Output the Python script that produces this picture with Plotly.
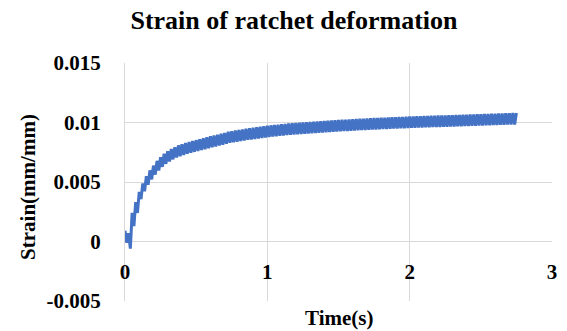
import plotly.graph_objects as go

# Ratchet strain history: one peak and one valley per loading cycle
PERIOD = 0.025  # s, loading cycle length

peak_strain = [
    0.0009, 0.0007, 0.0024, 0.0033, 0.00418, 0.00488, 0.00548, 0.00598, 0.00638, 0.00678,
    0.00708, 0.00738, 0.00758, 0.00778, 0.00793, 0.00808, 0.00818, 0.00828, 0.00837, 0.00845,
    0.00852, 0.0086, 0.00868, 0.00876, 0.00884, 0.00891, 0.00898, 0.00905, 0.00912, 0.00922,
    0.00927, 0.00932, 0.00937, 0.00942, 0.00947, 0.00952, 0.00956, 0.0096, 0.00964, 0.00968,
    0.00972, 0.00976, 0.00979, 0.00982, 0.00985, 0.00988, 0.00991, 0.00993, 0.00996, 0.00998,
    0.01001, 0.01003, 0.01005, 0.01007, 0.01009, 0.01011, 0.01013, 0.01015, 0.01017, 0.01019,
    0.01021, 0.01023, 0.01024, 0.01026, 0.01028, 0.01029, 0.01031, 0.01032, 0.01034, 0.01035,
    0.01037, 0.01038, 0.0104, 0.01041, 0.01042, 0.01044, 0.01045, 0.01046, 0.01047, 0.01049,
    0.0105, 0.01051, 0.01052, 0.01053, 0.01054, 0.01055, 0.01056, 0.01057, 0.01058, 0.01059,
    0.0106, 0.01061, 0.01062, 0.01063, 0.01064, 0.01065, 0.01066, 0.01067, 0.01068, 0.01069,
    0.0107, 0.01071, 0.01072, 0.01073, 0.01074, 0.01075, 0.01076, 0.01077, 0.01078, 0.01079,
    0.0108,
]

valley_strain = [
    -0.0001, -0.0006, 0.0013, 0.0024, 0.00357, 0.00422, 0.00477, 0.00522, 0.00562, 0.00597,
    0.00627, 0.00652, 0.00672, 0.0069, 0.00705, 0.00717, 0.00727, 0.00737, 0.00745, 0.00753,
    0.0076, 0.00768, 0.00776, 0.00784, 0.00792, 0.00799, 0.00806, 0.00813, 0.00821, 0.00829,
    0.00834, 0.00839, 0.00844, 0.00849, 0.00854, 0.00858, 0.00862, 0.00866, 0.0087, 0.00874,
    0.00878, 0.00882, 0.00885, 0.00888, 0.00891, 0.00894, 0.00896, 0.00899, 0.00901, 0.00904,
    0.00906, 0.00908, 0.0091, 0.00912, 0.00914, 0.00916, 0.00918, 0.0092, 0.00922, 0.00924,
    0.00926, 0.00928, 0.00929, 0.00931, 0.00933, 0.00934, 0.00936, 0.00937, 0.00939, 0.0094,
    0.00942, 0.00943, 0.00945, 0.00946, 0.00947, 0.00949, 0.0095, 0.00951, 0.00952, 0.00954,
    0.00955, 0.00956, 0.00957, 0.00958, 0.00959, 0.0096, 0.00961, 0.00962, 0.00963, 0.00964,
    0.00965, 0.00966, 0.00967, 0.00968, 0.00969, 0.0097, 0.00971, 0.00972, 0.00973, 0.00974,
    0.00975, 0.00976, 0.00977, 0.00978, 0.00979, 0.0098, 0.00981, 0.00982, 0.00983, 0.00984,
]

x_ticks = [0, 1, 2, 3]
x_tick_labels = ["0", "1", "2", "3"]
y_ticks = [-0.005, 0, 0.005, 0.01, 0.015]
y_tick_labels = ["-0.005", "0", "0.005", "0.01", "0.015"]
X_RANGE = [0, 3]
Y_RANGE = [-0.005, 0.015]

# interleave peaks and valleys into one time series
time_s, strain = [], []
for k, p in enumerate(peak_strain):
    time_s.append(k * PERIOD)
    strain.append(p)
    if k < len(valley_strain):
        time_s.append(k * PERIOD + PERIOD / 2)
        strain.append(valley_strain[k])

FONT = "Liberation Serif"
GRID = "#d9d9d9"

fig = go.Figure(
    go.Scatter(
        x=time_s, y=strain, mode="lines",
        line=dict(color="#4472C4", width=3, simplify=False),
        showlegend=False, hoverinfo="skip",
    )
)

# horizontal axis crosses the vertical axis at strain = 0
zero_pos = (0 - Y_RANGE[0]) / (Y_RANGE[1] - Y_RANGE[0])

fig.update_layout(
    width=567, height=331,
    margin=dict(l=125, r=10, t=63, b=30),
    paper_bgcolor="white", plot_bgcolor="white",
    title=dict(
        text="Strain of ratchet deformation",
        font=dict(family=FONT, size=26, color="black", weight="bold"),
        x=294 / 567, xanchor="center", xref="container",
        y=1 - 20 / 331, yanchor="middle", yref="container",
    ),
    xaxis=dict(
        range=X_RANGE, tickvals=x_ticks, ticktext=x_tick_labels,
        showgrid=True, gridcolor=GRID, gridwidth=1,
        zeroline=False, showline=False, ticks="",
        anchor="free", position=zero_pos,
        ticklabelstandoff=15,
        tickfont=dict(family=FONT, size=21, color="black", weight="bold"),
    ),
    yaxis=dict(
        range=Y_RANGE, tickvals=y_ticks, ticktext=y_tick_labels,
        showgrid=True, gridcolor=GRID, gridwidth=1,
        zeroline=True, zerolinecolor=GRID, zerolinewidth=1,
        showline=True, linecolor=GRID, linewidth=1, ticks="",
        ticklabelstandoff=19,
        tickfont=dict(family=FONT, size=21, color="black", weight="bold"),
    ),
    annotations=[
        dict(
            text="Time(s)", xref="paper", yref="paper",
            x=0.5, y=-17 / 238, xanchor="center", yanchor="middle",
            showarrow=False,
            font=dict(family=FONT, size=21, color="black", weight="bold"),
        ),
        dict(
            text="Strain(mm/mm)", xref="paper", yref="paper",
            x=(27 - 125) / 432, y=0.48, xanchor="center", yanchor="middle",
            textangle=-90, showarrow=False,
            font=dict(family=FONT, size=21, color="black", weight="bold"),
        ),
    ],
)

fig.write_html("out.html")
